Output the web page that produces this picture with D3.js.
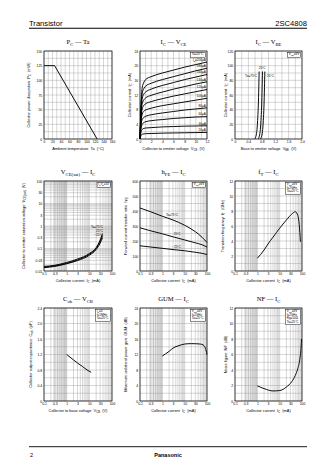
<!DOCTYPE html>
<html><head><meta charset="utf-8">
<script src="https://cdn.jsdelivr.net/npm/d3@7"></script>
<style>body{margin:0;background:#fff}svg{display:block}</style>
</head><body>
<script>
// ================= DATA =================
// Pc - Ta
const pcTa_T = [0, 25, 125];
const pcTa_P = [125, 125, 0];
// Ic - Vce  (Ta=25°C), one array per base current
const icVce_V = [0, 0.2, 0.4, 0.7, 1, 2, 4, 6, 8, 10, 12];
const icVce_IB = ["I_{B}=200μA","180μA","160μA","140μA","120μA","100μA","80μA","60μA","40μA","20μA"];
const icVce_I200 = [0, 10, 14, 15.5, 16.2, 17, 18, 18.8, 19.6, 20.3, 21];
const icVce_I180 = [0, 9, 12.5, 13.8, 14.4, 15.2, 16.2, 17, 17.8, 18.6, 19.3];
const icVce_I160 = [0, 8, 11, 12.3, 12.8, 13.6, 14.6, 15.4, 16.2, 16.9, 17.6];
const icVce_I140 = [0, 7, 9.6, 10.7, 11.2, 11.9, 12.8, 13.6, 14.3, 15, 15.6];
const icVce_I120 = [0, 6, 8.2, 9.2, 9.6, 10.2, 11, 11.7, 12.3, 12.9, 13.5];
const icVce_I100 = [0, 5, 6.8, 7.6, 7.9, 8.4, 9.1, 9.6, 10.1, 10.6, 11.1];
const icVce_I80  = [0, 4, 5.3, 5.9, 6.2, 6.6, 7.1, 7.5, 7.9, 8.2, 8.5];
const icVce_I60  = [0, 3, 4, 4.5, 4.7, 5, 5.3, 5.6, 5.8, 6, 6.1];
const icVce_I40  = [0, 2, 2.6, 2.9, 3, 3.1, 3.3, 3.4, 3.5, 3.55, 3.6];
const icVce_I20  = [0, 1, 1.3, 1.4, 1.45, 1.5, 1.6, 1.65, 1.7, 1.75, 1.8];
// Ic - Vbe (Vce=6V)
const icVbe_I   = [0, 3, 10, 25, 45, 70, 92];
const icVbe_V75 = [0.585, 0.62, 0.65, 0.675, 0.695, 0.71, 0.72];
const icVbe_V25 = [0.685, 0.72, 0.75, 0.775, 0.795, 0.81, 0.82];
const icVbe_Vm25= [0.755, 0.79, 0.82, 0.845, 0.865, 0.88, 0.89];
// Vce(sat) - Ic (Ic/Ib=10)
const vsat_I   = [0.1, 0.3, 1, 3, 10, 20, 30, 38];
const vsat_75  = [0.016, 0.018, 0.024, 0.034, 0.06, 0.11, 0.24, 0.45];
const vsat_25  = [0.015, 0.017, 0.022, 0.031, 0.055, 0.1, 0.2, 0.37];
const vsat_m25 = [0.014, 0.016, 0.021, 0.029, 0.05, 0.09, 0.17, 0.3];
// hFE - Ic (Vce=6V)
const hfe_I   = [0.1, 0.3, 1, 3, 10, 30, 60, 100];
const hfe_75  = [420, 395, 365, 340, 305, 262, 225, 190];
const hfe_25  = [288, 268, 248, 228, 207, 188, 175, 160];
const hfe_m25 = [168, 160, 151, 143, 135, 125, 118, 110];
// fT - Ic
const ft_I = [1, 2, 3, 5, 10, 20, 35, 50, 65, 75, 85];
const ft_F = [1.7, 2.8, 3.6, 4.5, 5.7, 6.8, 7.6, 7.9, 7.4, 6.2, 3.9];
// Cob - Vcb
const cob_V = [1, 2, 3, 5, 8, 12];
const cob_C = [1.2, 1.06, 0.98, 0.89, 0.8, 0.74];
// GUM - Ic
const gum_I = [1, 2, 3.3, 5, 10, 20, 50, 70, 85, 100];
const gum_G = [11.6, 12.8, 13.8, 14.2, 14.7, 14.8, 14.7, 14.4, 13.6, 12];
// NF - Ic
const nf_I = [1, 2, 5, 10, 20, 35, 50, 65, 80, 90, 95];
const nf_N = [1.95, 1.6, 1.3, 1.35, 1.8, 2.5, 3.3, 4.2, 5.4, 6.8, 8.0];
// tick labels
const logTicks = [0.1, 0.3, 1, 3, 10, 30, 100];
const vsatYTicks = [0.01, 0.03, 0.1, 0.3, 1, 3, 10, 30, 100];

// ================= DRAWING =================
const SANS = "'Liberation Sans', Arial, sans-serif";
const SERIF = "'Liberation Serif', 'Times New Roman', serif";
const svg = d3.select("body").append("svg").attr("width", 336).attr("height", 474);

function rich(text, str, fs) {
  const parts = str.split(/(_\{[^}]*\})/).filter(s => s.length);
  let off = 0;
  parts.forEach(p => {
    if (p.startsWith("_{")) {
      text.append("tspan").attr("dy", fs * 0.3 - off).attr("font-size", fs * 0.72).text(p.slice(2, -1));
      off = fs * 0.3;
    } else {
      text.append("tspan").attr("dy", -off).text(p);
      off = 0;
    }
  });
  return text;
}

// header / footer
svg.append("text").attr("x", 29).attr("y", 25.5).attr("font-family", SANS).attr("font-size", 7.6).text("Transistor");
svg.append("text").attr("x", 307).attr("y", 25.5).attr("text-anchor", "end").attr("font-family", SANS).attr("font-size", 7.6).text("2SC4808");
svg.append("line").attr("x1", 29).attr("x2", 307).attr("y1", 28.3).attr("y2", 28.3).attr("stroke", "#000").attr("stroke-width", 1.1);
svg.append("line").attr("x1", 29).attr("x2", 307).attr("y1", 446.7).attr("y2", 446.7).attr("stroke", "#000").attr("stroke-width", 0.9);
svg.append("text").attr("x", 30).attr("y", 457).attr("font-family", SANS).attr("font-size", 5.5).text("2");
svg.append("text").attr("x", 168).attr("y", 457).attr("text-anchor", "middle").attr("font-family", SANS).attr("font-weight", "bold").attr("font-size", 5.5).text("Panasonic");

const cols = [{left: 44, w: 68}, {left: 140, w: 67}, {left: 235, w: 67}];
const rows = [{top: 51, h: 88}, {top: 181, h: 90}, {top: 308, h: 93}];

function logLines(d) {
  const out = [];
  for (let dec = d[0]; dec < d[1] * 0.999; dec *= 10)
    for (let k = 1; k <= 9; k++) out.push(dec * k);
  out.push(d[1]);
  return out;
}
const f1 = d => d === 0 ? "0" : d.toFixed(1);

function drawPanel(p) {
  const c = cols[p.col], r = rows[p.row];
  const L = c.left, T = r.top, Wd = c.w, Ht = r.h;
  const x = (p.xlog ? d3.scaleLog() : d3.scaleLinear()).domain(p.xd).range([L, L + Wd]);
  const y = (p.ylog ? d3.scaleLog() : d3.scaleLinear()).domain(p.yd).range([T + Ht, T]);
  const g = svg.append("g");
  if (p.xlog) g.append("rect").attr("x", x(0.25)).attr("y", T).attr("width", x(1) - x(0.25)).attr("height", Ht).attr("fill", "#e8e8e8");
  const xg = p.xlog ? logLines(p.xd) : d3.range(p.xd[0], p.xd[1] + 1e-9, p.xstep);
  const yg = p.ylog ? logLines(p.yd) : d3.range(p.yd[0], p.yd[1] + 1e-9, p.ystep);
  g.selectAll(".gx").data(xg).join("line").attr("x1", d => x(d)).attr("x2", d => x(d))
    .attr("y1", T).attr("y2", T + Ht).attr("stroke", "#8c8c8c").attr("stroke-width", 0.35);
  g.selectAll(".gy").data(yg).join("line").attr("y1", d => y(d)).attr("y2", d => y(d))
    .attr("x1", L).attr("x2", L + Wd).attr("stroke", "#8c8c8c").attr("stroke-width", 0.35);
  g.append("rect").attr("x", L).attr("y", T).attr("width", Wd).attr("height", Ht)
    .attr("fill", "none").attr("stroke", "#000").attr("stroke-width", 0.7);

  const ax = g.append("g").attr("transform", `translate(0,${T + Ht})`)
    .call(d3.axisBottom(x).tickValues(p.xticks).tickFormat(p.xfmt || (d => d)).tickSize(0).tickPadding(2));
  ax.select(".domain").remove();
  ax.selectAll("text").attr("font-size", 3.4).attr("font-family", SANS).attr("fill", "#000");
  const ay = g.append("g").attr("transform", `translate(${L},0)`)
    .call(d3.axisLeft(y).tickValues(p.yticks).tickFormat(p.yfmt || (d => d)).tickSize(0).tickPadding(1.8));
  ay.select(".domain").remove();
  ay.selectAll("text").attr("font-size", 3.4).attr("font-family", SANS).attr("fill", "#000");

  // title
  rich(svg.append("text").attr("x", L + Wd / 2).attr("y", T - 7).attr("text-anchor", "middle")
    .attr("font-family", SERIF).attr("font-size", 6.6), p.title, 6.6);
  // x label
  rich(svg.append("text").attr("x", L + Wd / 2).attr("y", T + Ht + 11).attr("text-anchor", "middle")
    .attr("font-family", SANS).attr("font-size", 3.9).attr("xml:space", "preserve"), p.xlabel, 3.9);
  // y label
  rich(svg.append("text").attr("transform", `translate(${L - p.yoff},${T + Ht / 2}) rotate(-90)`)
    .attr("text-anchor", "middle").attr("dy", "0.35em")
    .attr("font-family", SANS).attr("font-size", 3.9).attr("xml:space", "preserve"), p.ylabel, 3.9);

  // series
  const line = d3.line().x(d => x(d[0])).y(d => y(d[1])).curve(p.straight ? d3.curveLinear : d3.curveMonotoneX);
  p.series.forEach(s => {
    const pts = s.x.map((v, i) => [v, s.y[i]]);
    g.append("path").attr("d", line(pts)).attr("fill", "none").attr("stroke", "#000").attr("stroke-width", 0.95);
  });
  // labels (data-space anchors)
  (p.labels || []).forEach(lb => {
    rich(g.append("text").attr("x", x(lb.at[0]) + (lb.dx || 0)).attr("y", y(lb.at[1]) + (lb.dy || 0))
      .attr("text-anchor", lb.anchor || "middle").attr("font-family", SANS).attr("font-size", 3.1), lb.t, 3.1);
  });
  // annotation box
  if (p.note) {
    const fs = 3.0, lh = 3.5;
    const bg = g.append("g");
    const rect = bg.append("rect").attr("fill", "#fff").attr("stroke", "#000").attr("stroke-width", 0.45);
    const tg = bg.append("g");
    p.note.forEach((t, i) => rich(tg.append("text").attr("x", 0).attr("y", i * lh)
      .attr("font-family", SANS).attr("font-size", fs), t, fs));
    const bb = tg.node().getBBox();
    const bw = bb.width + 2.4, bh = p.note.length * lh + 1.4;
    const bx = L + Wd - 1.6 - bw, by = T + 1.3;
    rect.attr("x", bx).attr("y", by).attr("width", bw).attr("height", bh);
    tg.attr("transform", `translate(${bx + 1.2},${by + 3.1})`);
  }
}

const L = "Collector current  I_{C}  (mA)";
const panels = [
  {col: 0, row: 0, title: "P_{C} — Ta", xd: [0, 160], xstep: 10, xticks: d3.range(0, 161, 20),
   yd: [0, 150], ystep: 12.5, yticks: d3.range(0, 151, 25), yoff: 14, straight: true,
   xlabel: "Ambient temperature  Ta  (°C)", ylabel: "Collector power dissipation  P_{C}  (mW)",
   series: [{x: pcTa_T, y: pcTa_P}]},
  {col: 1, row: 0, title: "I_{C} — V_{CE}", xd: [0, 12], xstep: 1, xticks: d3.range(0, 13, 2),
   yd: [0, 24], ystep: 2, yticks: d3.range(0, 25, 4), yoff: 9,
   xlabel: "Collector to emitter voltage  V_{CE}  (V)", ylabel: "Collector current  I_{C}  (mA)",
   note: ["Ta=25°C"],
   series: [icVce_I200, icVce_I180, icVce_I160, icVce_I140, icVce_I120, icVce_I100, icVce_I80, icVce_I60, icVce_I40, icVce_I20].map(a => ({x: icVce_V, y: a})),
   labels: [icVce_I200, icVce_I180, icVce_I160, icVce_I140, icVce_I120, icVce_I100, icVce_I80, icVce_I60, icVce_I40, icVce_I20]
     .map((a, i) => ({t: icVce_IB[i], at: [11.8, a[a.length - 1]], dy: -1.3, anchor: "end"}))},
  {col: 2, row: 0, title: "I_{C} — V_{BE}", xd: [0, 2], xstep: 0.2, xticks: [0, 0.4, 0.8, 1.2, 1.6, 2.0], xfmt: f1,
   yd: [0, 120], ystep: 10, yticks: d3.range(0, 121, 20), yoff: 8,
   xlabel: "Base to emitter voltage  V_{BE}  (V)", ylabel: "Collector current  I_{C}  (mA)",
   note: ["V_{CE}=6V"],
   series: [{x: icVbe_V75, y: icVbe_I}, {x: icVbe_V25, y: icVbe_I}, {x: icVbe_Vm25, y: icVbe_I}],
   labels: [{t: "Ta=75°C", at: [0.66, 84], anchor: "end"}, {t: "25°C", at: [0.81, 94], dy: -1},
            {t: "−25°C", at: [0.9, 84], anchor: "start"}]},
  {col: 0, row: 1, title: "V_{CE(sat)} — I_{C}", xlog: true, xd: [0.1, 100], xticks: logTicks,
   ylog: true, yd: [0.01, 100], yticks: vsatYTicks, yoff: 19,
   xlabel: L, ylabel: "Collector to emitter saturation voltage  V_{CE(sat)}  (V)",
   note: ["I_{C}/I_{B}=10"],
   series: [{x: vsat_I, y: vsat_75}, {x: vsat_I, y: vsat_25}, {x: vsat_I, y: vsat_m25}],
   labels: [{t: "Ta=75°C", at: [40, 0.8], anchor: "end"}, {t: "25°C", at: [40, 0.53], anchor: "end"},
            {t: "−25°C", at: [40, 0.37], anchor: "end"}]},
  {col: 1, row: 1, title: "h_{FE} — I_{C}", xlog: true, xd: [0.1, 100], xticks: logTicks,
   yd: [0, 600], ystep: 50, yticks: d3.range(0, 601, 100), yoff: 13,
   xlabel: L, ylabel: "Forward current transfer ratio  h_{FE}",
   note: ["V_{CE}=6V"],
   series: [{x: hfe_I, y: hfe_75}, {x: hfe_I, y: hfe_25}, {x: hfe_I, y: hfe_m25}],
   labels: [{t: "Ta=75°C", at: [2.7, 345], dy: -3.5}, {t: "25°C", at: [4.6, 222], dy: -2.5},
            {t: "−25°C", at: [4.3, 140], dy: -2.5}]},
  {col: 2, row: 1, title: "f_{T} — I_{C}", xlog: true, xd: [0.1, 100], xticks: logTicks,
   yd: [0, 12], ystep: 1, yticks: d3.range(0, 13, 2), yoff: 11,
   xlabel: L, ylabel: "Transition frequency  f_{T}  (GHz)",
   note: ["V_{CE}=6V", "f=2GHz", "Ta=25°C"],
   series: [{x: ft_I, y: ft_F}]},
  {col: 0, row: 2, title: "C_{ob} — V_{CB}", xlog: true, xd: [0.1, 100], xticks: logTicks,
   yd: [0, 2.4], ystep: 0.2, yticks: [0, 0.4, 0.8, 1.2, 1.6, 2.0, 2.4], yfmt: f1, yoff: 12,
   xlabel: "Collector to base voltage  V_{CB}  (V)", ylabel: "Collector output capacitance  C_{ob}  (pF)",
   note: ["I_{E}=0", "f=1MHz", "Ta=25°C"],
   series: [{x: cob_V, y: cob_C}]},
  {col: 1, row: 2, title: "GUM — I_{C}", xlog: true, xd: [0.1, 100], xticks: logTicks,
   yd: [0, 24], ystep: 2, yticks: d3.range(0, 25, 4), yoff: 13,
   xlabel: L, ylabel: "Maximum unilateral power gain  GUM  (dB)",
   note: ["V_{CE}=6V", "f=2GHz", "Ta=25°C"],
   series: [{x: gum_I, y: gum_G}]},
  {col: 2, row: 2, title: "NF — I_{C}", xlog: true, xd: [0.1, 100], xticks: logTicks,
   yd: [0, 12], ystep: 1, yticks: d3.range(0, 13, 2), yoff: 8,
   xlabel: L, ylabel: "Noise figure  NF  (dB)",
   note: ["V_{CE}=6V", "f=2GHz", "Rg=50Ω", "Ta=25°C"],
   series: [{x: nf_I, y: nf_N}]}
];
panels.forEach(drawPanel);
</script>
</body></html>
